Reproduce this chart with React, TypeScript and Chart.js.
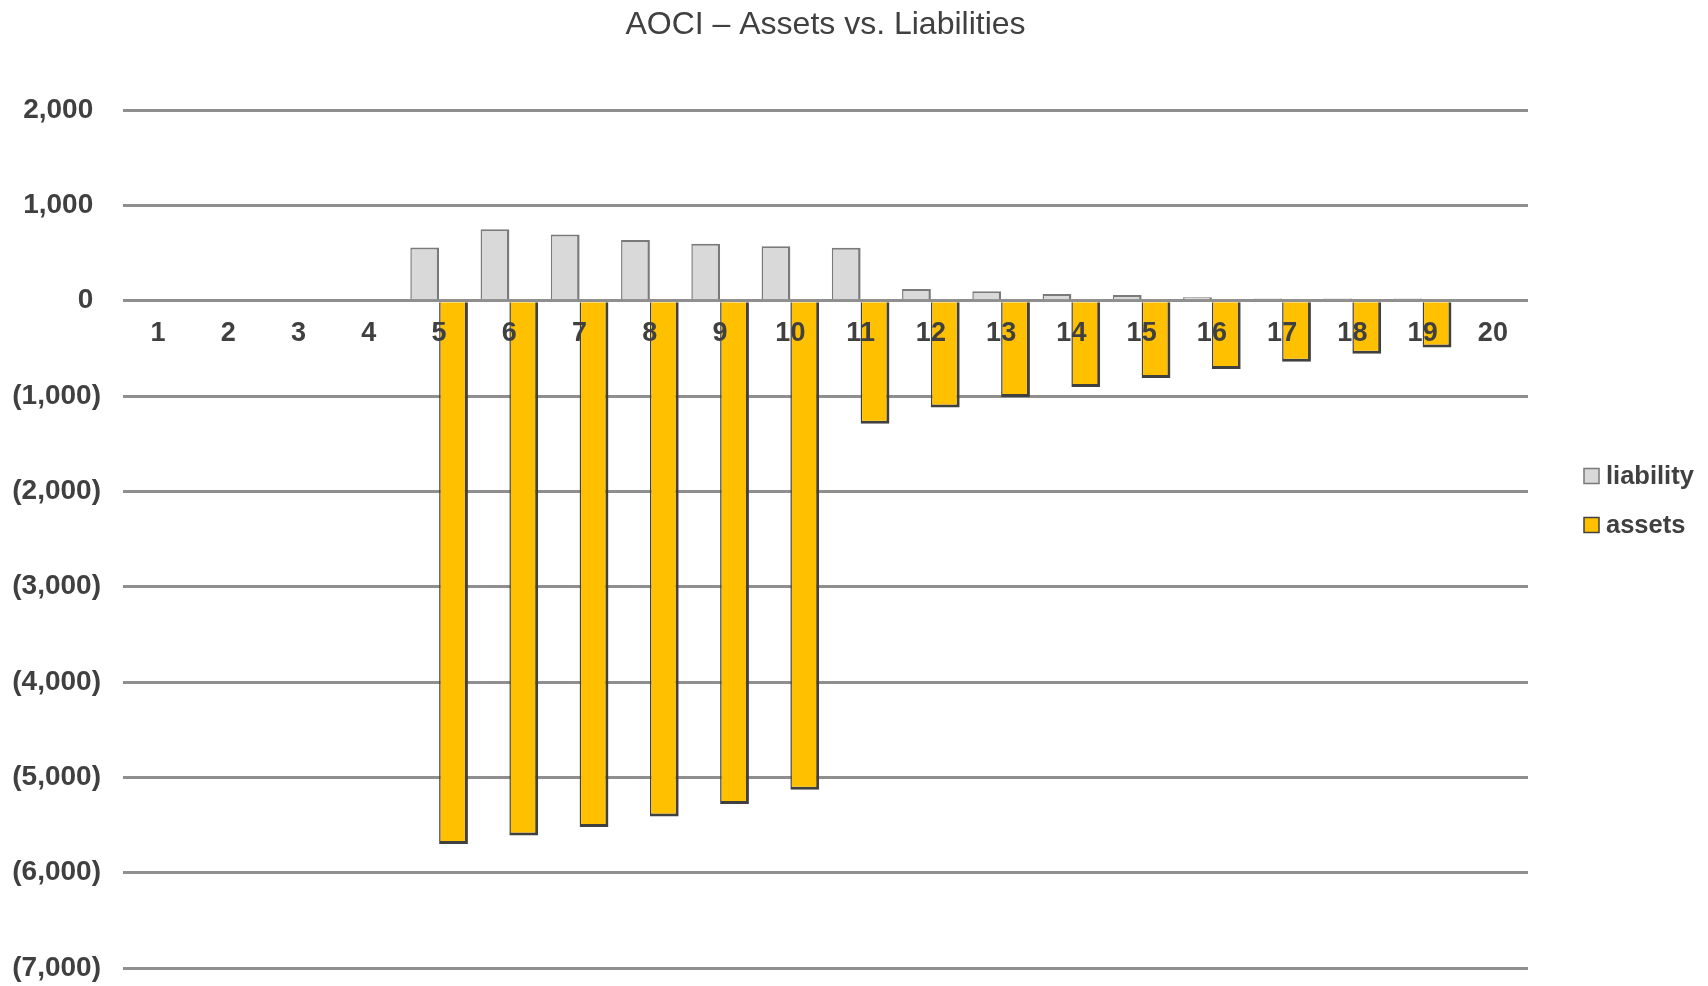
import React, { useEffect, useRef } from "react";
import { Chart, registerables } from "chart.js";

Chart.register(...registerables);

const categories = ["1", "2", "3", "4", "5", "6", "7", "8", "9", "10", "11", "12", "13", "14", "15", "16", "17", "18", "19", "20"];
const liability: (number | null)[] = [null, null, null, null, 558, 748, 694, 637, 598, 570, 556, 123, 98, 70, 60, 36, 22, 22, 22, null];
const assets: (number | null)[] = [null, null, null, null, -5700, -5610, -5520, -5410, -5280, -5130, -1290, -1120, -1010, -905, -810, -717, -640, -556, -490, null];
const seriesNames = ["liability", "assets"];
const titleText = "AOCI – Assets vs. Liabilities";
const yMin = -7000;
const yMax = 2000;
const yStep = 1000;

const FONT = "'Liberation Sans', Arial, Helvetica, sans-serif";
const TEXT = "#404040";

const fmt = (v: number) => Math.abs(v).toLocaleString("en-US");

const overlay = {
  id: "overlay",
  afterDraw(chart: any) {
    const { ctx, chartArea } = chart;
    ctx.save();
    ctx.fillStyle = TEXT;
    ctx.font = `32px ${FONT}`;
    ctx.textAlign = "center";
    ctx.textBaseline = "middle";
    ctx.fillText(titleText, (chartArea.left + chartArea.right) / 2, 25);

    const x0 = chartArea.right + 56;
    const mid = (chartArea.top + chartArea.bottom) / 2;
    const rows = [mid - 63, mid - 14];
    ctx.font = `bold 25.5px ${FONT}`;
    ctx.textAlign = "left";
    chart.data.datasets.forEach((ds: any, i: number) => {
      const y = rows[i];
      ctx.fillStyle = ds.backgroundColor;
      ctx.fillRect(x0, y - 7.5, 15, 15);
      ctx.strokeStyle = ds.borderColor;
      ctx.lineWidth = 1.5;
      ctx.strokeRect(x0, y - 7.5, 15, 15);
      ctx.fillStyle = TEXT;
      ctx.fillText(ds.label, x0 + 22, y + 1);
    });
    ctx.restore();
  },
};

export default function App() {
  const ref = useRef<HTMLCanvasElement | null>(null);

  useEffect(() => {
    document.body.style.margin = "0";
    const canvas = ref.current;
    if (!canvas) return;
    const chart = new Chart(canvas, {
      type: "bar",
      data: {
        labels: categories,
        datasets: [
          {
            label: seriesNames[0],
            data: liability,
            backgroundColor: "#d9d9d9",
            borderColor: "#7a7a7a",
            borderWidth: { top: 2, left: 1.5, right: 2.5, bottom: 0 } as any,
            categoryPercentage: 0.82,
            barPercentage: 1.0,
          },
          {
            label: seriesNames[1],
            data: assets,
            backgroundColor: "#ffc000",
            borderColor: "#404040",
            borderWidth: { top: 0, left: 1.5, right: 3, bottom: 3 } as any,
            categoryPercentage: 0.82,
            barPercentage: 1.0,
          },
        ],
      },
      options: {
        animation: false,
        responsive: false,
        maintainAspectRatio: false,
        layout: { padding: { left: 13, right: 180, top: 110, bottom: 18 } },
        plugins: {
          legend: { display: false },
          title: { display: false },
          tooltip: { enabled: false },
        },
        scales: {
          x: {
            position: { y: 0 } as any,
            grid: { display: false, drawTicks: false },
            border: { display: false },
            ticks: {
              z: 1,
              color: TEXT,
              font: { size: 27, weight: "bold", family: FONT },
              padding: 17,
              maxRotation: 0,
              autoSkip: false,
            },
          },
          y: {
            min: yMin,
            max: yMax,
            grid: { color: "#8f8f8f", lineWidth: 3, drawTicks: false },
            border: { display: false },
            afterFit: (scale: any) => {
              scale.width = 110;
              scale.paddingTop = 0;
              scale.paddingBottom = 0;
            },
            ticks: {
              stepSize: yStep,
              color: TEXT,
              font: { size: 28, weight: "bold", family: FONT },
              padding: 22,
              callback: (v: any) => (Number(v) < 0 ? `(${fmt(Number(v))})` : `${fmt(Number(v))} `),
            },
          },
        },
      },
      plugins: [overlay],
    });
    return () => chart.destroy();
  }, []);

  return (
    <div style={{ width: 1708, height: 986 }}>
      <canvas ref={ref} width={1708} height={986} style={{ display: "block" }} />
    </div>
  );
}
